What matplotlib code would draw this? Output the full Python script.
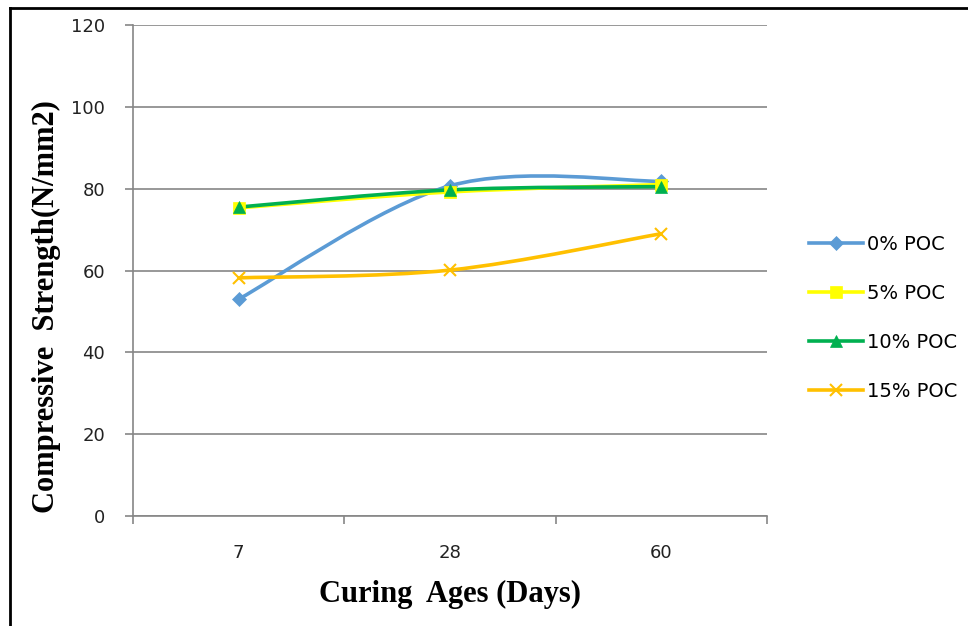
import numpy as np
import matplotlib
matplotlib.use("Agg")
import matplotlib.pyplot as plt
from matplotlib.path import Path
from matplotlib.patches import PathPatch
from matplotlib.lines import Line2D

# data
ages = ["7", "28", "60"]
poc_0 = [53.0, 80.7, 81.8]
poc_5 = [75.3, 79.2, 81.0]
poc_10 = [75.5, 79.7, 80.5]
poc_15 = [58.2, 60.1, 69.0]

series = [
    ("0% POC", poc_0, "#5B9BD5", "D", 7),
    ("5% POC", poc_5, "#FFFF00", "s", 8),
    ("10% POC", poc_10, "#00B050", "^", 9),
    ("15% POC", poc_15, "#FFC000", "x", 9),
]


def smooth_path(xs, ys):
    # Excel-like smoothed line as cubic bezier segments
    pts = np.column_stack([xs, ys]).astype(float)
    verts = [pts[0]]
    codes = [Path.MOVETO]
    n = len(pts)
    for i in range(n - 1):
        p0 = pts[i - 1] if i > 0 else pts[i]
        p1 = pts[i]
        p2 = pts[i + 1]
        p3 = pts[i + 2] if i + 2 < n else pts[i + 1]
        c1 = p1 + (p2 - p0) / 6.0
        c2 = p2 - (p3 - p1) / 6.0
        verts += [c1, c2, p2]
        codes += [Path.CURVE4] * 3
    return Path(verts, codes)


plt.rcParams["font.family"] = "DejaVu Sans"
fig = plt.figure(figsize=(9.68, 6.26), dpi=100)
ax = fig.add_axes([133 / 968, 1 - 516 / 626, (767 - 133) / 968, (516 - 25) / 626])

x = np.arange(len(ages))
# smoothing done in screen-like proportions, then mapped back to data units
sy = (516 - 25) / 120.0
sx = (767 - 133) / 3.0
for name, vals, col, mk, ms in series:
    p = smooth_path(x * sx, np.array(vals) * sy)
    p = Path(p.vertices / [sx, sy], p.codes)
    ax.add_patch(PathPatch(p, facecolor="none", edgecolor=col, lw=2.6, zorder=3))
    ax.plot(x, vals, linestyle="none", marker=mk, color=col, markersize=ms,
            markeredgewidth=1.5 if mk == "x" else 0.5, markeredgecolor=col, zorder=4)

ax.set_xlim(-0.5, 2.5)
ax.set_ylim(0, 120)
ax.set_yticks(np.arange(0, 121, 20))
ax.set_xticks(x)
ax.set_xticklabels(ages)
ax.set_xticks([-0.5, 0.5, 1.5, 2.5], minor=True)
ax.tick_params(axis="x", which="major", length=0, pad=20, labelsize=13, labelcolor="#222222")
ax.tick_params(axis="x", which="minor", length=6, color="#868686", width=1.2, direction="out")
ax.tick_params(axis="y", length=6, color="#868686", width=1.2, pad=14, labelsize=13,
               labelcolor="#222222")
ax.yaxis.grid(True, color="#868686", lw=1.2)
ax.set_axisbelow(True)
for s in ["top", "right"]:
    ax.spines[s].set_visible(False)
for s in ["left", "bottom"]:
    ax.spines[s].set_color("#868686")
    ax.spines[s].set_linewidth(1.2)

fig.text(450 / 968, 1 - 594 / 626, "Curing  Ages (Days)", ha="center", va="center",
         family="Liberation Serif", fontweight="bold", fontsize=22)
fig.text(46 / 968, 1 - 307 / 626, "Compressive  Strength(N/mm2)", ha="center", va="center",
         rotation=90, family="Liberation Serif", fontweight="bold", fontsize=22)

handles = [Line2D([0], [0], color=c, lw=2.6, marker=m, markersize=ms,
                  markeredgewidth=1.5 if m == "x" else 0.5, markeredgecolor=c)
           for _, _, c, m, ms in series]
fig.legend(handles, [s[0] for s in series], loc="center left",
           bbox_to_anchor=(791 / 968, 1 - 318 / 626), frameon=False, fontsize=14,
           handlelength=2.8, handletextpad=0.2, labelspacing=1.55)

# outer frame (left and top edges only)
fig.add_artist(Line2D([10 / 968, 10 / 968], [0, 1 - 8 / 626], transform=fig.transFigure,
                      color="black", lw=2))
fig.add_artist(Line2D([10 / 968, 1], [1 - 8 / 626, 1 - 8 / 626], transform=fig.transFigure,
                      color="black", lw=2))

fig.savefig("out.png", dpi=100)
